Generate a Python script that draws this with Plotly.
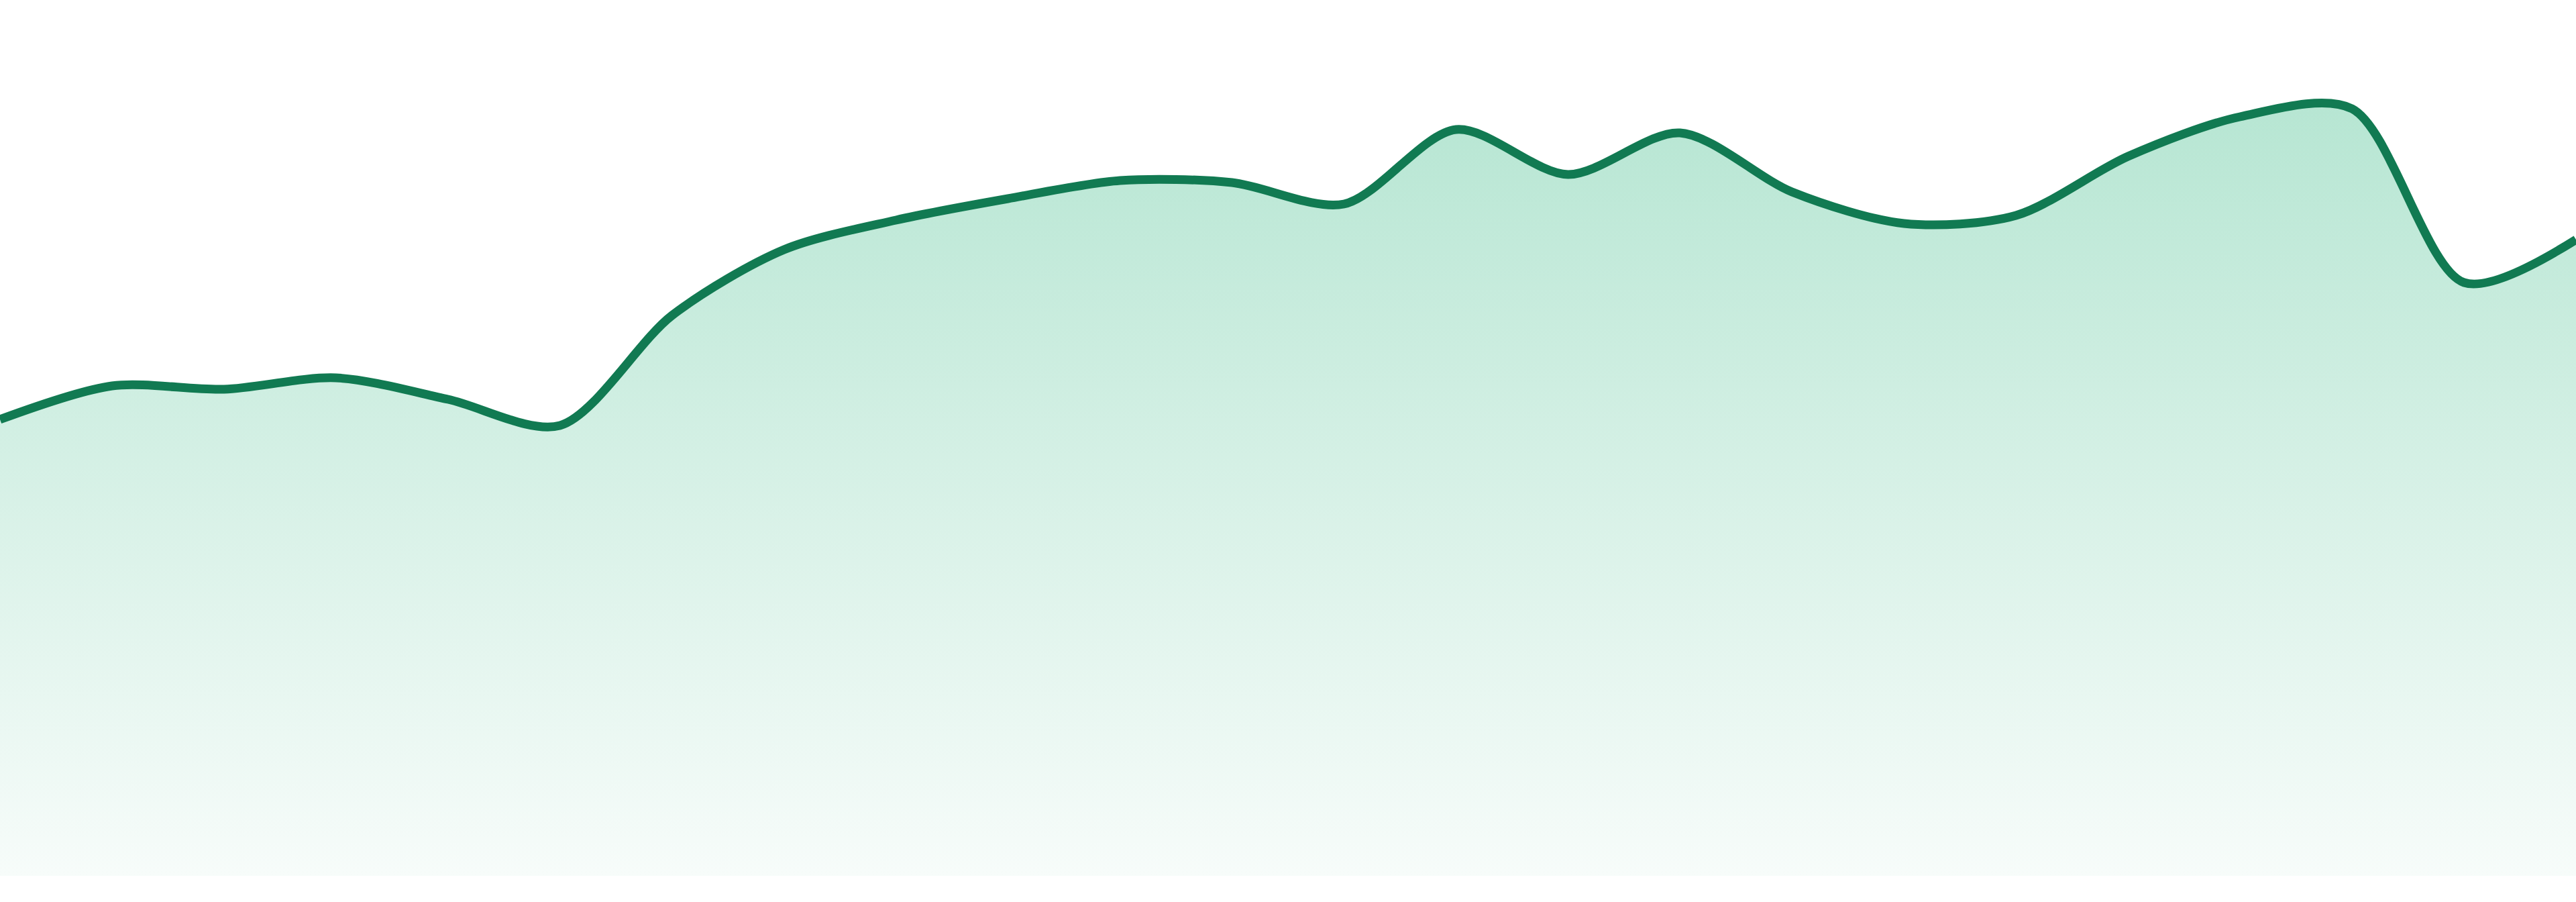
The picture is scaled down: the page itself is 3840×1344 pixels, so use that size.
import plotly.graph_objects as go

# readings, left to right
steps = list(range(24))
values = [680, 730, 725, 742, 710, 671, 835, 933, 977, 1009, 1036, 1033,
          1001, 1112, 1045, 1107, 1019, 972, 984, 1072, 1131, 1143, 884, 948]

lineColor = "#117a52"
fillTop = "rgb(183,230,211)"
fillBottom = "rgb(247,252,250)"

fig = go.Figure()
fig.add_trace(go.Scatter(
    x=steps,
    y=values,
    mode="lines",
    line=dict(color=lineColor, width=13, shape="spline", smoothing=0.85),
    fill="tozeroy",
    fillgradient=dict(type="vertical",
                      colorscale=[[0, fillBottom], [1, fillTop]],
                      start=0, stop=max(values)),
    hoverinfo="skip",
    showlegend=False,
))

fig.update_layout(
    width=3840, height=1344,
    margin=dict(l=0, r=0, t=0, b=39),
    paper_bgcolor="white",
    plot_bgcolor="white",
    xaxis=dict(visible=False, range=[0, 23], fixedrange=True),
    yaxis=dict(visible=False, range=[0, 1305], fixedrange=True),
)

# page body has a default 8px margin, drop it so the chart sits flush
fig.write_html("out.html", config={"displayModeBar": False},
               post_script="document.body.style.margin='0';document.body.style.overflow='hidden';")
